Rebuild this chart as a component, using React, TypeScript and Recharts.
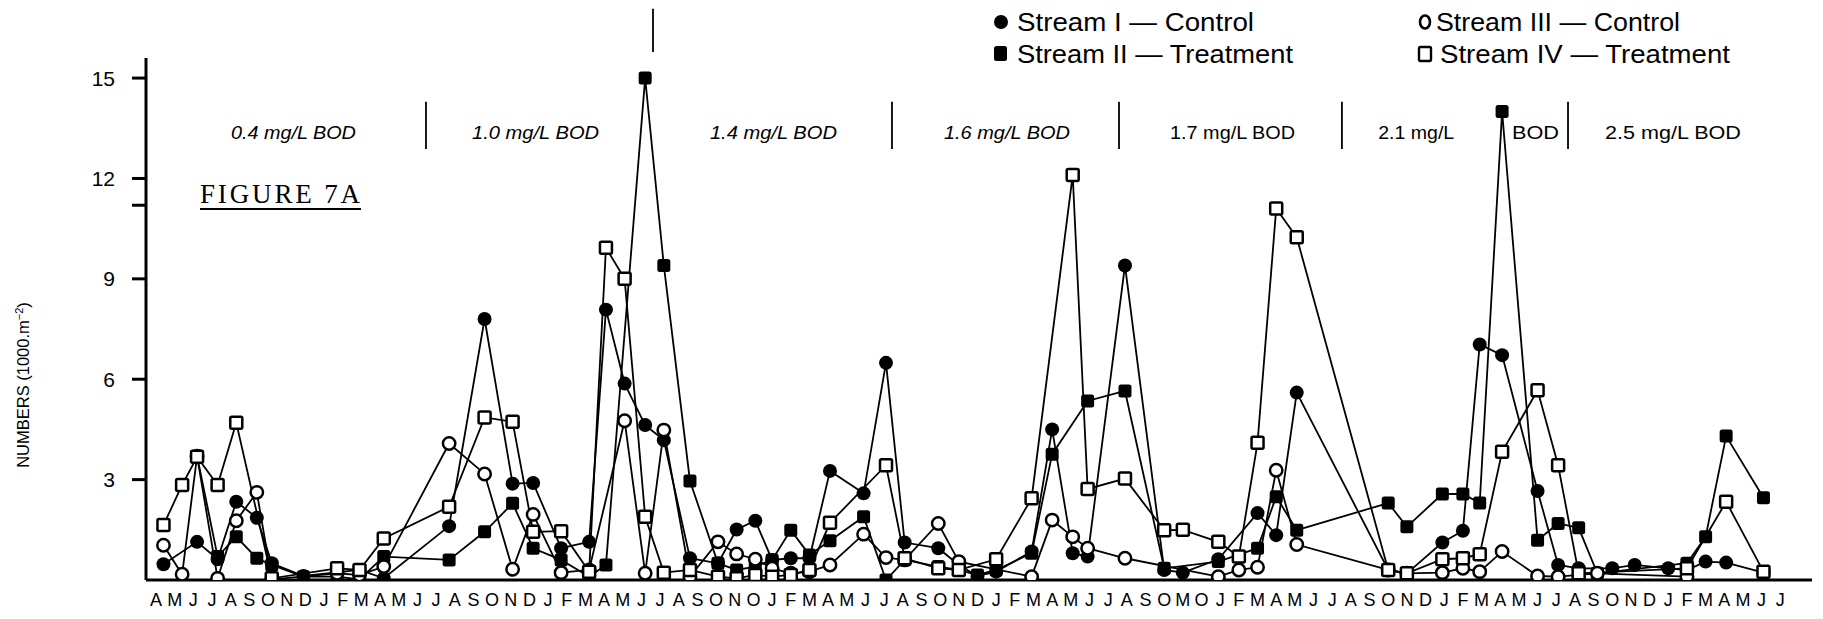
import React from 'react';
import { LineChart, Line, XAxis, YAxis, ReferenceLine } from 'recharts';

// Month initials along the time axis, April of year 1 through July of year 8 (as printed)
const monthLetters = [
  'A', 'M', 'J', 'J', 'A', 'S', 'O', 'N', 'D',
  'J', 'F', 'M', 'A', 'M', 'J', 'J', 'A', 'S', 'O', 'N', 'D',
  'J', 'F', 'M', 'A', 'M', 'J', 'J', 'A', 'S', 'O', 'N', 'O',
  'J', 'F', 'M', 'A', 'M', 'J', 'J', 'A', 'S', 'O', 'N', 'D',
  'J', 'F', 'M', 'A', 'M', 'J', 'J', 'A', 'S', 'O', 'M', 'O',
  'J', 'F', 'M', 'A', 'M', 'J', 'J', 'A', 'S', 'O', 'N', 'D',
  'J', 'F', 'M', 'A', 'M', 'J', 'J', 'A', 'S', 'O', 'N', 'D',
  'J', 'F', 'M', 'A', 'M', 'J', 'J',
];

// Sampling dates, in months after the start of the record
const sampleMonths = [
  0.4, 1.4, 2.2, 3.3, 4.3, 5.4, 6.2, 7.9, 9.7, 10.9, 12.2, 15.7,
  17.6, 19.1, 20.2, 21.7, 23.2, 24.1, 25.1, 26.2, 27.2, 28.6, 30.1, 31.1,
  32.1, 33.0, 34.0, 35.0, 36.1, 37.9, 39.1, 40.1, 41.9, 43.0, 44.0, 45.0,
  46.9, 48.0, 49.1, 49.9, 51.9, 54.0, 55.0, 56.9, 58.0, 59.0, 60.0, 61.1,
  66.0, 67.0, 68.9, 70.0, 70.9, 72.1, 74.0, 75.1, 76.2, 77.2, 78.0, 79.2,
  81.0, 82.0, 83.0, 84.1, 86.1,
];

// Numbers (1000 per m²) for each stream at each sampling date; null = not sampled
const streamI = [
  0.47, null, 1.14, 0.62, 2.34, 1.86, 0.5, 0.12, null, 0.3, 0.05, 1.61,
  7.8, 2.88, 2.9, 0.95, 1.14, 8.08, 5.87, 4.63, 4.18, 0.65, 0.5, 1.51,
  1.77, 0.6, 0.65, 0.65, 3.26, 2.59, 6.49, 1.12, 0.95, 0.45, 0.12, 0.25,
  0.85, 4.5, 0.8, 0.7, 9.4, 0.3, 0.22, 0.62, null, 2.0, 1.34, 5.6,
  0.3, 0.2, 1.12, 1.47, 7.04, 6.72, 2.66, 0.45, 0.35, null, 0.35, 0.45,
  0.35, 0.3, 0.55, 0.52, 0.22,
];
const streamII = [
  null, null, 3.7, 0.7, 1.29, 0.65, 0.45, 0.1, 0.1, 0.02, 0.7, 0.6,
  1.44, 2.29, 0.95, 0.6, 0.1, 0.45, null, 15.0, 9.4, 2.96, 0.5, 0.3,
  0.4, 0.6, 1.49, 0.75, 1.17, 1.89, 0.0, 0.6, 0.4, 0.3, 0.15, 0.3,
  0.8, 3.76, null, 5.35, 5.65, 0.35, null, 0.55, null, 0.95, 2.49, 1.49,
  2.3, 1.59, 2.57, 2.57, 2.3, 14.0, 1.19, 1.69, 1.56, 0.2, null, null,
  null, 0.5, 1.29, 4.3, 2.46,
];
const streamIII = [
  1.04, 0.17, 3.7, 0.05, 1.77, 2.62, 0.02, null, 0.2, 0.15, 0.4, 4.08,
  3.17, 0.32, 1.96, 0.22, 0.3, null, 4.76, 0.2, 4.48, 0.1, 1.14, 0.78,
  0.62, 0.35, 0.2, 0.25, 0.45, 1.37, 0.67, 0.6, 1.69, 0.55, null, null,
  0.1, 1.79, 1.29, 0.95, 0.65, null, null, 0.1, 0.3, 0.38, 3.28, 1.06,
  0.3, 0.2, 0.22, 0.35, 0.25, 0.85, 0.12, 0.1, null, 0.2, null, null,
  null, 0.1, null, null, null,
];
const streamIV = [
  1.64, 2.84, 3.68, 2.84, 4.7, null, 0.05, null, 0.35, 0.3, 1.24, 2.19,
  4.86, 4.73, 1.44, 1.46, 0.25, 9.93, 9.0, 1.89, 0.22, 0.3, 0.1, 0.05,
  0.15, 0.1, 0.15, 0.3, 1.71, null, 3.43, 0.65, 0.35, 0.3, null, 0.62,
  2.44, null, 12.1, 2.72, 3.03, 1.49, 1.5, 1.14, 0.7, 4.1, 11.1, 10.24,
  0.3, 0.2, 0.62, 0.65, 0.77, 3.83, 5.67, 3.43, 0.2, null, null, null,
  null, 0.35, null, 2.34, 0.25,
];

// Treatment periods: boundaries (months) and their labels
const bodBoundaries = [14.46, 26.62, 39.42, 51.58, 63.52, 75.63];
const bodLabels = ['0.4 mg/L BOD', '1.0 mg/L BOD', '1.4 mg/L BOD', '1.6 mg/L BOD', '1.7 mg/L BOD', '2.1 mg/L', 'BOD', '2.5 mg/L BOD'];
const bodLabelMonths = [7.36, 20.33, 33.07, 45.58, 57.66, 67.5, 73.89, 81.25];

const yTicks = [3, 6, 9, 11.2, 12, 15];

// ---- layout ----
const W = 1823;
const H = 619;
const PLOT_LEFT = 146;
const PLOT_RIGHT = 1812;
const PLOT_TOP = 58;
const PLOT_BOTTOM = 580;
const MONTH_PX = 18.67;
const MONTH0_PX = 156;
const X_MIN = (PLOT_LEFT - MONTH0_PX) / MONTH_PX;
const X_MAX = (PLOT_RIGHT - MONTH0_PX) / MONTH_PX;
const Y_MAX = 15.6;

const SANS = '"Liberation Sans", Arial, Helvetica, sans-serif';
const TYPEWRITER = '"Liberation Serif", "Times New Roman", serif';

const xPx = (t: number) => PLOT_LEFT + ((t - X_MIN) / (X_MAX - X_MIN)) * (PLOT_RIGHT - PLOT_LEFT);

const rows = sampleMonths.map((t, k) => ({
  t,
  s1: streamI[k],
  s2: streamII[k],
  s3: streamIII[k],
  s4: streamIV[k],
}));

const monthTicks = monthLetters.map((_, i) => i);

const bodLabelWidths = [125, 127, 127, 126, 125, 76, 47, 136];
const bodItalic = [true, true, true, true, false, false, false, false];

function XTick(props: any) {
  const { x, payload } = props;
  return (
    <text x={x} y={606} textAnchor="middle" fontSize={18} fontFamily={SANS} fill="#000">
      {monthLetters[payload.value]}
    </text>
  );
}

function YTick(props: any) {
  const { y, payload } = props;
  const v = payload.value;
  const label = v % 3 === 0 ? String(v) : '';
  return (
    <g>
      <line x1={PLOT_LEFT - 14} x2={PLOT_LEFT} y1={y} y2={y} stroke="#000" strokeWidth={3} />
      {label && (
        <text x={115} y={y} dy={7.5} textAnchor="end" fontSize={21} fontFamily={SANS} fill="#000">
          {label}
        </text>
      )}
    </g>
  );
}

function blank(props: any, tag: string) {
  return <g key={`${tag}-${props.index}`} />;
}

function valid(props: any) {
  const { cx, cy, value } = props;
  return value != null && cx != null && cy != null && !Number.isNaN(cx) && !Number.isNaN(cy);
}

const dotFilledCircle = (props: any) =>
  valid(props) ? <circle key={`a-${props.index}`} cx={props.cx} cy={props.cy} r={7} fill="#000" /> : blank(props, 'a');

const dotFilledSquare = (props: any) =>
  valid(props) ? (
    <rect key={`b-${props.index}`} x={props.cx - 6.5} y={props.cy - 6.5} width={13} height={13} rx={2.5} fill="#000" />
  ) : (
    blank(props, 'b')
  );

const dotOpenCircle = (props: any) =>
  valid(props) ? (
    <circle key={`c-${props.index}`} cx={props.cx} cy={props.cy} r={6.2} fill="#fff" stroke="#000" strokeWidth={2.5} />
  ) : (
    blank(props, 'c')
  );

const dotOpenSquare = (props: any) =>
  valid(props) ? (
    <rect
      key={`d-${props.index}`}
      x={props.cx - 6}
      y={props.cy - 6}
      width={12}
      height={12}
      rx={1.5}
      fill="#fff"
      stroke="#000"
      strokeWidth={2.5}
    />
  ) : (
    blank(props, 'd')
  );

export default function App() {
  return (
    <div style={{ position: 'absolute', left: 0, top: 0, width: W, height: H, background: '#fff' }}>
      <LineChart width={W} height={H} data={rows} margin={{ top: PLOT_TOP, right: W - PLOT_RIGHT, bottom: H - PLOT_BOTTOM - 30, left: 0 }}>
        <XAxis
          dataKey="t"
          type="number"
          domain={[X_MIN, X_MAX]}
          allowDataOverflow
          ticks={monthTicks}
          interval={0}
          tick={<XTick />}
          tickLine={false}
          axisLine={{ stroke: '#000', strokeWidth: 3 }}
          height={30}
        />
        <YAxis
          type="number"
          domain={[0, Y_MAX]}
          allowDataOverflow
          ticks={yTicks}
          interval={0}
          tick={<YTick />}
          tickLine={false}
          axisLine={{ stroke: '#000', strokeWidth: 3 }}
          width={PLOT_LEFT}
        />
        {bodBoundaries.map((b, i) => (
          <ReferenceLine
            key={`sep-${i}`}
            segment={i === 1 ? [{ x: b, y: 15.78 }, { x: b, y: 17.07 }] : [{ x: b, y: 12.88 }, { x: b, y: 14.29 }]}
            ifOverflow="visible"
            stroke="#000"
            strokeWidth={1.8}
          />
        ))}
        <Line
          dataKey="s1"
          type="linear"
          stroke="#000"
          strokeWidth={1.8}
          connectNulls
          dot={dotFilledCircle}
          activeDot={false}
          isAnimationActive={false}
        />
        <Line
          dataKey="s2"
          type="linear"
          stroke="#000"
          strokeWidth={1.8}
          connectNulls
          dot={dotFilledSquare}
          activeDot={false}
          isAnimationActive={false}
        />
        <Line
          dataKey="s3"
          type="linear"
          stroke="#000"
          strokeWidth={1.8}
          connectNulls
          dot={dotOpenCircle}
          activeDot={false}
          isAnimationActive={false}
        />
        <Line
          dataKey="s4"
          type="linear"
          stroke="#000"
          strokeWidth={1.8}
          connectNulls
          dot={dotOpenSquare}
          activeDot={false}
          isAnimationActive={false}
        />
      </LineChart>

      <svg
        width={W}
        height={H}
        style={{ position: 'absolute', left: 0, top: 0, pointerEvents: 'none' }}
      >
        {/* legend */}
        <circle cx={1001} cy={22} r={7} fill="#000" />
        <text x={1017} y={31} fontSize={26} fontFamily={SANS} textLength={237} lengthAdjust="spacingAndGlyphs">
          Stream I — Control
        </text>
        <rect x={994} y={46} width={13} height={15} rx={2.5} fill="#000" />
        <text x={1017} y={63} fontSize={26} fontFamily={SANS} textLength={276} lengthAdjust="spacingAndGlyphs">
          Stream II — Treatment
        </text>
        <ellipse cx={1425} cy={22} rx={5} ry={6.5} fill="#fff" stroke="#000" strokeWidth={2.6} />
        <text x={1436} y={31} fontSize={26} fontFamily={SANS} textLength={244} lengthAdjust="spacingAndGlyphs">
          Stream III — Control
        </text>
        <rect x={1419} y={47} width={12} height={14} rx={1.5} fill="#fff" stroke="#000" strokeWidth={2.4} />
        <text x={1440} y={63} fontSize={26} fontFamily={SANS} textLength={290} lengthAdjust="spacingAndGlyphs">
          Stream IV — Treatment
        </text>

        {/* treatment period labels */}
        {bodLabels.map((s, i) => (
          <text
            key={`bod-${i}`}
            x={xPx(bodLabelMonths[i])}
            y={139}
            textAnchor="middle"
            fontSize={18}
            fontStyle={bodItalic[i] ? 'italic' : 'normal'}
            fontFamily={SANS}
            textLength={bodLabelWidths[i]}
            lengthAdjust="spacingAndGlyphs"
          >
            {s}
          </text>
        ))}

        {/* figure caption */}
        <text x={200} y={203} fontSize={27} fontFamily={TYPEWRITER} textLength={160} lengthAdjust="spacing">
          FIGURE 7A
        </text>
        <line x1={200} x2={361} y1={209} y2={209} stroke="#000" strokeWidth={2} />

        {/* y-axis title */}
        <text
          x={0}
          y={0}
          transform="translate(29 385) rotate(-90)"
          textAnchor="middle"
          fontSize={16.5}
          fontFamily={SANS}
        >
          NUMBERS (1000.m
          <tspan dy={-6} fontSize={11}>
            −2
          </tspan>
          <tspan dy={6}>)</tspan>
        </text>
      </svg>
    </div>
  );
}
